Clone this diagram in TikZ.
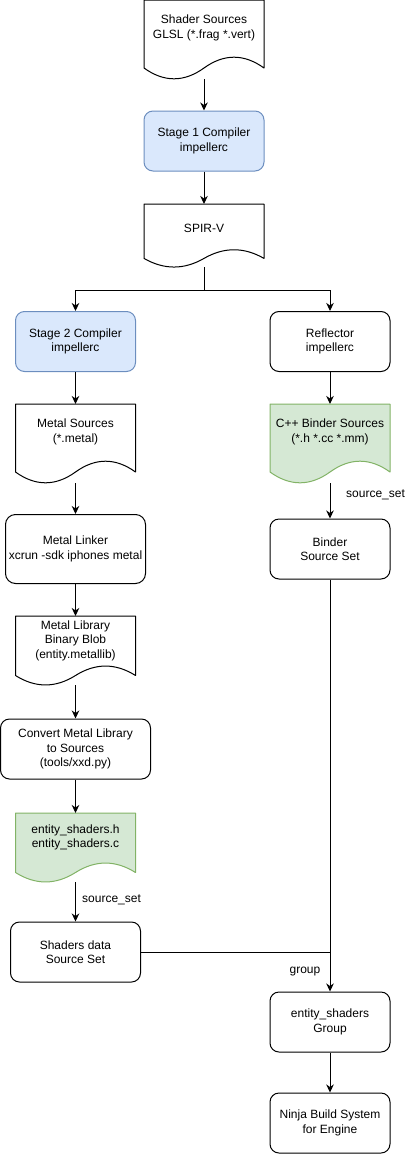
\documentclass[tikz,border=0pt]{standalone}
\usepackage{fontspec}
\setmainfont{Liberation Sans}
\usetikzlibrary{arrows.meta,calc}
\definecolor{bluefill}{HTML}{DAE8FC}
\definecolor{bluedraw}{HTML}{6C8EBF}
\definecolor{greenfill}{HTML}{D5E8D4}
\definecolor{greendraw}{HTML}{82B366}
% #1 left x, #2 top y, #3 width, #4 height, #5 fill, #6 stroke
\newcommand\docoutline[6]{%
  \filldraw[fill=#5,draw=#6,line width=1pt,line join=round]
    (#1,#2) -- ({#1+#3},#2) -- ({#1+#3},{#2+0.85*#4})
    .. controls ({#1+0.8333*#3},{#2+0.67*#4}) and ({#1+0.6667*#3},{#2+0.67*#4}) .. ({#1+0.5*#3},{#2+0.85*#4})
    .. controls ({#1+0.3333*#3},{#2+1.03*#4}) and ({#1+0.1667*#3},{#2+1.03*#4}) .. (#1,{#2+0.85*#4})
    -- cycle;}
\tikzset{
  lbl/.style={font=\fontsize{12}{14.4}\selectfont, text=black, inner sep=0pt},
  txt/.style={font=\fontsize{12}{14.4}\selectfont, text=black,
    execute at begin node={\rule{0pt}{12.5pt}}},
  doctext/.style={txt, align=center, inner sep=0pt},
  proc/.style={txt, draw=black, fill=white, line width=1pt, rounded corners=9pt,
    minimum width=120pt, minimum height=60pt, align=center, inner sep=0pt},
  blueproc/.style={proc, fill=bluefill, draw=bluedraw},
  arr/.style={draw=black, line width=1pt, -{Stealth[length=8pt,width=7.5pt,inset=2.5pt]}},
  ln/.style={draw=black, line width=1pt},
}
\begin{document}
\begin{tikzpicture}[x=1pt,y=-1pt]
\useasboundingbox (0,0) rectangle (411,1154);

% documents (outlines)
\docoutline{144}{0}{120}{80}{white}{black}
\docoutline{144}{204}{120}{64}{white}{black}
\docoutline{15.5}{404}{120}{80}{white}{black}
\docoutline{270}{404}{120}{80}{greenfill}{greendraw}
\docoutline{15.5}{616}{120}{70}{white}{black}
\docoutline{15.5}{813}{120}{70}{greenfill}{greendraw}

% document texts
\node[doctext] (shader) at (204,28) {Shader Sources\\GLSL (*.frag *.vert)};
\node[doctext] (spirv) at (204,226) {SPIR-V};
\node[doctext] (metalsrc) at (75.5,432) {Metal Sources\\(*.metal)};
\node[doctext] (cppsrc) at (330,432) {C++ Binder Sources\\(*.h *.cc *.mm)};
\node[doctext] (metallib) at (75.5,640.5) {Metal Library\\Binary Blob\\(entity.metallib)};
\node[doctext] (entsrc) at (75.5,837.5) {entity\_shaders.h\\entity\_shaders.c};

% document tops and bottoms
\coordinate (shaderB) at (204,79);
\coordinate (spirvT) at (204,204);
\coordinate (spirvB) at (204,267);
\coordinate (metalsrcT) at (75.5,404);
\coordinate (metalsrcB) at (75.5,483);
\coordinate (cppsrcT) at (330,404);
\coordinate (cppsrcB) at (330,483);
\coordinate (metallibT) at (75.5,616);
\coordinate (metallibB) at (75.5,685);
\coordinate (entsrcT) at (75.5,813);
\coordinate (entsrcB) at (75.5,882);

% process boxes
\node[blueproc] (stage1) at (204,141) {Stage 1 Compiler\\impellerc};
\node[blueproc] (stage2) at (75.5,341.5) {Stage 2 Compiler\\impellerc};
\node[proc] (reflector) at (330,341.5) {Reflector\\impellerc};
\node[proc, minimum width=140pt, minimum height=69pt, rounded corners=10pt] (linker) at (75.5,549) {Metal Linker\\xcrun -sdk iphones metal};
\node[proc] (binder) at (330,549) {Binder\\Source Set};
\node[proc, minimum width=150pt] (convert) at (75.5,749) {Convert Metal Library\\to Sources\\(tools/xxd.py)};
\node[proc, minimum width=130pt] (shdata) at (75.5,952) {Shaders data\\Source Set};
\node[proc] (group) at (330,1022) {entity\_shaders\\Group};
\node[proc] (ninja) at (330,1123) {Ninja Build System\\for Engine};

% connectors
\draw[arr] (shaderB) -- (stage1);
\draw[arr] (stage1) -- (spirvT);
\coordinate (split) at (204,290);
\draw[ln] (spirvB) -- (split);
\draw[arr] (split) -| (stage2);
\draw[arr] (split) -| (reflector);
\draw[arr] (stage2) -- (metalsrcT);
\draw[arr] (reflector) -- (cppsrcT);
\draw[arr] (metalsrcB) -- (linker);
\draw[arr] (cppsrcB) -- (binder);
\draw[arr] (linker) -- (metallibT);
\draw[arr] (metallibB) -- (convert);
\draw[arr] (convert) -- (entsrcT);
\draw[arr] (entsrcB) -- (shdata);
\draw[arr] (binder) -- (group);
\coordinate (join) at (shdata.east -| group);
\draw[ln] (shdata.east) -- (join);
\draw[arr] (group) -- (ninja);

% labels
\node[lbl, anchor=west] (lblss1) at (346,495) {source\_set};
\node[lbl, anchor=west] (lblss2) at (82,900) {source\_set};
\node[lbl] (lblgroup) at (305,972) {group};
\end{tikzpicture}
\end{document}
